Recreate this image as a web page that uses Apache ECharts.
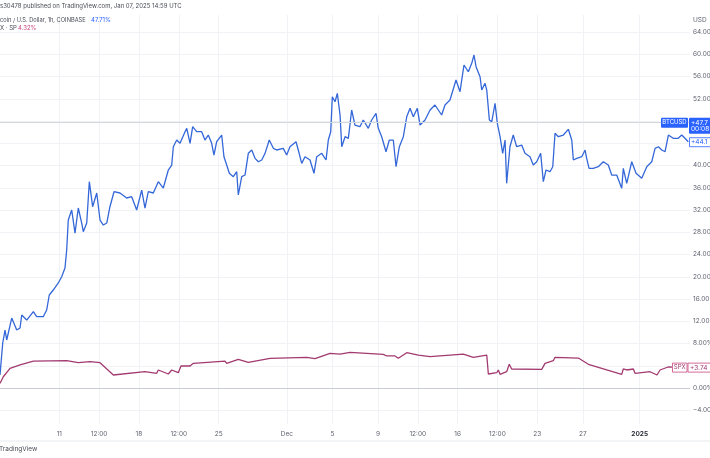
<!DOCTYPE html>
<html><head><meta charset="utf-8">
<script src="https://cdn.jsdelivr.net/npm/echarts@6/dist/echarts.min.js"></script>
<style>html,body{margin:0;padding:0;background:#fff;overflow:hidden}#c{width:710px;height:458px}</style>
</head><body><div id="c"></div>
<script>
// time in days since Nov 5 2024 00:00, values in % change
const btcTime = [0.79,1.03,1.23,1.38,1.82,2.26,2.55,2.70,3.14,3.72,4.01,4.59,4.89,5.12,5.47,5.91,6.21,6.50,6.65,6.79,7.09,7.38,7.67,7.97,8.11,8.41,8.64,8.93,9.29,9.58,9.87,10.17,10.45,10.81,11.33,11.92,12.36,12.80,13.24,13.53,13.82,14.26,14.70,15.14,15.58,15.88,16.02,16.32,16.61,17.05,17.20,17.49,17.72,18.07,18.51,18.80,19.09,19.39,19.59,19.83,20.27,20.47,20.76,20.94,21.29,21.59,21.73,22.03,22.32,22.61,22.91,23.20,23.49,23.79,24.08,24.45,24.81,25.10,25.68,25.98,26.27,26.80,27.00,27.30,27.59,28.03,28.38,28.62,29.06,29.44,29.64,29.85,29.99,30.23,30.43,30.67,30.82,31.11,31.40,31.69,31.98,32.42,32.71,33.15,33.45,33.83,34.03,34.33,34.71,35.00,35.35,35.59,35.88,36.23,36.53,36.82,37.11,37.46,37.70,38.14,38.58,39.01,39.60,39.89,40.33,40.86,41.21,41.56,41.94,42.24,42.44,42.62,42.97,43.12,43.41,43.56,43.79,44.00,44.29,44.49,44.73,44.96,45.17,45.31,45.60,45.89,46.19,46.63,46.92,47.36,47.65,47.95,48.30,48.53,48.77,49.12,49.36,49.56,49.85,50.29,50.73,51.03,51.17,51.47,51.91,52.20,52.34,52.55,52.92,53.36,53.80,54.24,54.54,54.98,55.42,55.56,55.86,56.30,56.68,57.18,57.62,58.06,58.35,58.64,58.94,59.23,59.52,59.95,60.39,60.69,60.98,61.27];
const btcPct = [2.34,8.09,10.42,8.63,12.58,10.42,10.79,13.12,12.22,13.72,12.82,12.82,14.02,16.72,17.62,18.88,20.01,21.57,24.81,30.20,32.00,27.86,32.36,29.66,28.10,29.66,37.09,32.59,35.06,30.20,29.30,29.66,32.59,35.29,35.06,34.16,34.39,32.00,35.59,32.36,35.29,35.06,37.09,35.95,39.19,40.09,43.38,44.58,43.99,46.08,46.69,43.99,46.98,46.08,46.08,44.58,45.48,43.99,41.89,44.28,45.48,41.58,39.78,38.60,37.99,38.89,34.70,37.99,38.29,42.19,42.79,41.29,40.68,40.99,42.19,44.58,43.09,42.79,43.09,41.89,43.38,44.28,42.79,40.39,41.58,40.99,38.60,41.58,42.19,40.99,44.58,46.08,52.37,51.47,52.98,49.08,43.38,45.18,44.89,49.98,47.28,46.98,48.18,46.69,48.18,49.38,46.69,45.18,42.48,44.58,44.58,39.78,43.38,45.18,48.77,50.28,48.77,50.28,47.28,48.18,49.98,50.88,49.08,50.88,51.78,55.37,53.27,58.07,56.86,58.37,59.87,57.76,55.96,53.57,54.78,53.57,48.18,47.87,51.18,47.59,45.18,42.19,44.58,36.80,43.38,45.48,43.38,43.68,42.19,41.58,40.09,40.68,42.19,37.09,39.19,38.89,39.78,45.79,45.18,45.48,46.51,44.58,40.99,41.29,41.58,42.79,41.29,39.49,39.49,39.78,40.68,40.09,38.29,38.29,35.90,39.49,36.80,40.68,38.60,37.70,39.78,40.68,43.09,43.38,42.79,42.48,45.48,44.89,44.89,45.48,44.89,44.28];
const spxTime = [0.79,1.08,1.67,2.55,3.72,6.65,7.67,8.70,9.58,10.75,13.53,14.56,14.70,15.58,15.88,16.46,16.69,17.49,17.78,20.56,20.71,21.73,22.61,24.52,27.74,28.47,29.79,30.67,31.55,34.47,34.77,35.50,35.79,36.53,37.55,38.58,41.50,42.38,43.56,43.70,44.44,44.58,44.73,45.31,45.54,45.75,48.39,48.68,49.41,49.56,51.61,52.49,52.63,55.42,55.56,55.86,56.44,56.59,57.91,58.52,58.79,59.49,59.84];
const spxPct = [0.84,2.03,3.54,4.14,4.85,4.91,4.55,4.73,4.55,2.34,2.93,2.64,3.24,2.52,3.24,2.75,3.96,3.96,4.44,4.85,4.44,5.16,4.62,5.34,5.52,5.27,6.24,6.11,6.42,6.06,5.76,5.76,5.34,6.35,5.93,5.63,6.11,5.52,5.93,2.52,2.75,3.24,2.46,2.93,4.26,3.42,3.36,4.44,4.91,5.52,5.39,4.26,3.96,2.46,3.42,3.24,3.42,2.64,2.93,2.34,3.24,3.78,3.74];
const xTickValues = [6,9.5,13,16.5,20,26,30,34,37.5,41,44.5,48,52,57];
const xTickLabels = ['11','12:00','18','12:00','25','Dec','5','9','12:00','16','12:00','23','27','2025'];
const yTickValues = [-4,0,4,8,12,16,20,24,28,32,36,40,44,48,52,56,60,64];
const btcPriceLine = 47.7;
const btcHeader = '47.71%';
const spxHeader = '4.32%';
const btcLabelTop = '+47.7', btcLabelBottom = '00:08', btcLabelLast = '+44.1';
const spxLabel = '+3.74', spxLabelLevel = 3.67;

const BLUE = '#3467d8', BLUE_BOX = '#2962ff', MAG = '#a23a70', MAG_TXT = '#c9477f';
const FONT = 'Inter, "Noto Sans", sans-serif';
const GREY = '#5f6270';

const chart = echarts.init(document.getElementById('c'), null, {renderer: 'canvas'});
const zip = (a, b) => a.map((t, i) => [t, b[i]]);

const option = {
  animation: false,
  backgroundColor: '#ffffff',
  textStyle: {fontFamily: FONT},
  grid: {left: 0, right: 20, top: 15, bottom: 34, containLabel: false, outerBoundsMode: 'none'},
  xAxis: {
    type: 'value', min: 0.79, max: 61.42,
    axisLine: {show: false},
    axisTick: {show: false, customValues: xTickValues},
    splitLine: {show: true, lineStyle: {color: '#f0f2f6', width: 1}},
    axisLabel: {
      customValues: xTickValues, margin: 7, fontSize: 6.5, color: GREY, fontFamily: FONT,
      formatter: v => {
        const i = xTickValues.indexOf(v);
        const s = i >= 0 ? xTickLabels[i] : '';
        return s === '2025' ? '{b|2025}' : s;
      },
      rich: {b: {fontWeight: 'bold', fontSize: 6.5, color: '#2a2e39', fontFamily: FONT}}
    }
  },
  yAxis: {
    type: 'value', position: 'right', min: -6.47, max: 67.06,
    axisLine: {show: false},
    axisTick: {show: false, customValues: yTickValues},
    splitLine: {show: true, lineStyle: {color: '#f0f2f6', width: 1}},
    axisLabel: {
      customValues: yTickValues, margin: 3, fontSize: 6.5, color: GREY, fontFamily: FONT,
      formatter: v => (v < 0 ? '\u2212' + Math.abs(v).toFixed(2) : v.toFixed(2)) + '%'
    }
  },
  series: [
    {
      name: 'BTCUSD', type: 'line', data: zip(btcTime, btcPct), showSymbol: false,
      lineStyle: {color: BLUE, width: 1.3}, z: 3,
      markLine: {
        silent: true, symbol: 'none', label: {show: false},
        data: [
          {yAxis: btcPriceLine, lineStyle: {color: '#d3d6dc', width: 1, type: 'solid'}},
          {yAxis: 0, lineStyle: {color: '#c9ccd3', width: 1, type: 'solid'}}
        ]
      }
    },
    {
      name: 'SPX', type: 'line', data: zip(spxTime, spxPct), showSymbol: false,
      lineStyle: {color: MAG, width: 1.3}, z: 2
    }
  ]
};
chart.setOption(option);

const pY = v => chart.convertToPixel({yAxisIndex: 0}, v);
const yb = pY(btcPriceLine);
const yLast = pY(btcPct[btcPct.length - 1]);
const ys = pY(spxLabelLevel);

chart.setOption({
  graphic: [
    {type: 'text', left: 0, top: 3, style: {text: 's30478 published on TradingView.com, Jan 07, 2025 14:59 UTC', fontSize: 6, fill: '#4a4d57', fontFamily: FONT}},
    {type: 'text', x: 0, y: 17.5, style: {text: 'coin / U.S. Dollar, 1h, COINBASE', fontSize: 5.7, fill: '#4a4d57', fontFamily: FONT}},
    {type: 'text', x: 91, y: 17.5, style: {text: btcHeader, fontSize: 6, fill: BLUE_BOX, fontFamily: FONT}},
    {type: 'text', x: 0, y: 25.5, style: {text: 'X \u00b7 SP', fontSize: 6, fill: '#4a4d57', fontFamily: FONT}},
    {type: 'text', x: 18, y: 25.5, style: {text: spxHeader, fontSize: 6, fill: MAG_TXT, fontFamily: FONT}},
    {type: 'text', x: 693, y: 17, style: {text: 'USD', fontSize: 6.5, fill: GREY, fontFamily: FONT}},
    // BTC labels
    {type: 'rect', shape: {x: 661, y: yb - 5, width: 27, height: 10, r: 1}, style: {fill: BLUE_BOX}, z: 10},
    {type: 'text', x: 674.5, y: yb, style: {text: 'BTCUSD', fontSize: 6, fill: '#ffffff', align: 'center', verticalAlign: 'middle', fontFamily: FONT}, z: 11},
    {type: 'rect', shape: {x: 689, y: yb - 5, width: 24, height: 16, r: 1}, style: {fill: BLUE_BOX}, z: 10},
    {type: 'text', x: 691, y: yb, style: {text: btcLabelTop, fontSize: 6.5, fill: '#ffffff', verticalAlign: 'middle', fontFamily: FONT}, z: 11},
    {type: 'text', x: 691, y: yb + 6.5, style: {text: btcLabelBottom, fontSize: 6.5, fill: '#ffffff', verticalAlign: 'middle', fontFamily: FONT}, z: 11},
    {type: 'rect', shape: {x: 689.5, y: yLast - 4, width: 24, height: 9}, style: {fill: '#ffffff', stroke: BLUE_BOX, lineWidth: 0.8}, z: 10},
    {type: 'text', x: 691, y: yLast + 0.5, style: {text: btcLabelLast, fontSize: 6.5, fill: BLUE_BOX, verticalAlign: 'middle', fontFamily: FONT}, z: 11},
    // SPX labels
    {type: 'rect', shape: {x: 672.5, y: ys - 4.5, width: 14.5, height: 9}, style: {fill: '#ffffff', stroke: MAG_TXT, lineWidth: 0.8}, z: 10},
    {type: 'text', x: 679.75, y: ys, style: {text: 'SPX', fontSize: 6, fill: MAG, align: 'center', verticalAlign: 'middle', fontFamily: FONT}, z: 11},
    {type: 'rect', shape: {x: 688, y: ys - 4.5, width: 25, height: 9}, style: {fill: '#ffffff', stroke: MAG_TXT, lineWidth: 0.8}, z: 10},
    {type: 'text', x: 690, y: ys, style: {text: spxLabel, fontSize: 6.5, fill: MAG, verticalAlign: 'middle', fontFamily: FONT}, z: 11},
    // footer
    {type: 'line', shape: {x1: 0, y1: 441, x2: 710, y2: 441}, style: {stroke: '#e6e8ec', lineWidth: 1}},
    {type: 'text', x: -1, y: 446, style: {text: 'TradingView', fontSize: 6.5, fill: '#4a4d57', fontFamily: FONT}}
  ]
});
</script>
</body></html>
